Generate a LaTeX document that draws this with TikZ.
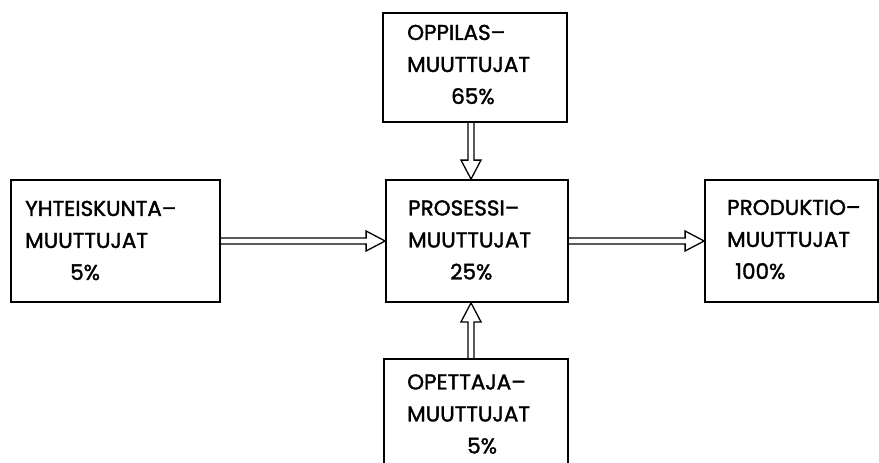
\documentclass[tikz,border=0pt]{standalone}
\usepackage{fontspec}
\setmainfont{Poppins}[FakeBold=1.6]
\usepackage{tikz}
\usetikzlibrary{calc}
\tikzset{
  font={\fontsize{21.5pt}{32pt}\selectfont},
  box/.style={draw, line width=1.8pt, inner sep=0pt},
  txt/.style={anchor=west, align=left, inner sep=0pt},
  hollow/.style={line width=1.3pt, line join=miter, to path={
    coordinate (hb) at ($(\tikztotarget)!19pt!(\tikztostart)$)
    ($(\tikztostart)!3pt!90:(\tikztotarget)$) -- ($(hb)!3pt!-90:(\tikztostart)$)
    -- ($(hb)!10pt!-90:(\tikztostart)$) -- (\tikztotarget)
    -- ($(hb)!10pt!90:(\tikztostart)$) -- ($(hb)!3pt!90:(\tikztostart)$)
    -- ($(\tikztostart)!3pt!-90:(\tikztotarget)$)}}
}

\begin{document}
\begin{tikzpicture}[x=1pt,y=-1pt]
\clip (0,0) rectangle (879,463);
\node[box, minimum width=184pt, minimum height=109pt] (oppilas) at (475,67.5) {};
\node[box, minimum width=209pt, minimum height=122pt] (yhteis) at (115.5,241) {};
\node[box, minimum width=182pt, minimum height=122pt] (prosessi) at (477,241) {};
\node[box, minimum width=173pt, minimum height=122pt] (produktio) at (791.5,241) {};
\node[box, minimum width=184pt, minimum height=122pt] (opettaja) at (476,420) {};
\node[txt] (oppilas-t) at (407,64.5) {OPPILAS--\\MUUTTUJAT\\\hspace*{44pt}65\%};
\node[txt] (yhteis-t) at (25,240.5) {YHTEISKUNTA--\\MUUTTUJAT\\\hspace*{45pt}5\%};
\node[txt] (prosessi-t) at (408,240) {PROSESSI--\\MUUTTUJAT\\\hspace*{42pt}25\%};
\node[txt] (produktio-t) at (727,239.5) {PRODUKTIO--\\MUUTTUJAT\\\hspace*{8pt}100\%};
\node[txt] (opettaja-t) at (407,414) {OPETTAJA--\\MUUTTUJAT\\\hspace*{60pt}5\%};
\draw[hollow] ([xshift=-4pt]oppilas.south) to ([xshift=-6pt]prosessi.north);
\draw[hollow] (yhteis.east) to (prosessi.west);
\draw[hollow] (prosessi.east) to (produktio.west);
\draw[hollow] ([xshift=-5pt]opettaja.north) to ([xshift=-6pt]prosessi.south);
\end{tikzpicture}
\end{document}
